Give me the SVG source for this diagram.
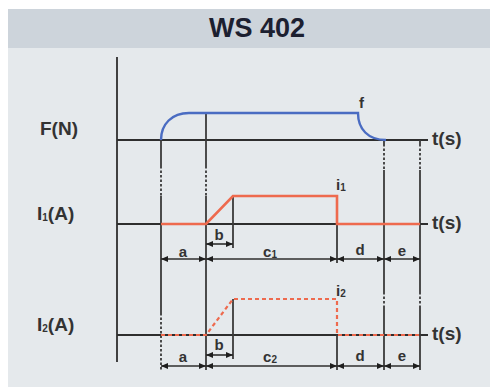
<svg xmlns="http://www.w3.org/2000/svg" width="490" height="387" viewBox="0 0 490 387">
<defs>
<style>
.ax{stroke:#2e2e2e;stroke-width:1.8;fill:none}
.vl{stroke:#3a3a3a;stroke-width:1.8;fill:none}
.br{stroke:#3a3a3a;stroke-width:1.8;fill:none;stroke-dasharray:2.5 2}
.dim{stroke:#2e2e2e;stroke-width:1.6;fill:none;marker-start:url(#ar);marker-end:url(#ar)}
.red{stroke:#ee6a4e;stroke-width:2.6;fill:none}
.redd{stroke:#ee6a4e;stroke-width:2.2;fill:none;stroke-dasharray:4 3}
.lbl{font-family:"Liberation Sans",Arial,sans-serif;font-weight:bold;fill:#333}
.big{font-size:19px}
.ts{font-size:19px}
.sm{font-size:15px}
.sub{font-size:10px}
</style>
<marker id="ar" viewBox="0 0 7 6" refX="7" refY="3" markerWidth="7" markerHeight="6" markerUnits="userSpaceOnUse" orient="auto-start-reverse">
<path d="M0,0 L7,3 L0,6 z" fill="#1e1e1e"/>
</marker>
</defs>
<rect x="0" y="0" width="490" height="387" fill="#ffffff"/>
<rect x="8" y="48" width="482" height="339" fill="#e5e9ec"/>
<rect x="8" y="9" width="482" height="39" fill="#cdd4db"/>
<g id="title"><text x="257" y="37" text-anchor="middle" font-family="Liberation Sans,Arial,sans-serif" font-weight="bold" font-size="27" fill="#1c2030">WS 402</text></g>

<g id="labels">
<text class="lbl big" x="40" y="135">F(N)</text>
<text class="lbl big" x="37" y="220">I<tspan class="sub" dy="1">1</tspan><tspan dy="-1">(A)</tspan></text>
<text class="lbl big" x="37" y="331">I<tspan class="sub" dy="1">2</tspan><tspan dy="-1">(A)</tspan></text>
<text class="lbl ts" x="432" y="145">t(s)</text>
<text class="lbl ts" x="432" y="229">t(s)</text>
<text class="lbl ts" x="432" y="340">t(s)</text>
<text class="lbl sm" x="359" y="108">f</text>
<text class="lbl sm" x="336" y="190">i<tspan class="sub" dy="1">1</tspan></text>
<text class="lbl sm" x="336" y="296">i<tspan class="sub" dy="1">2</tspan></text>
<text class="lbl sm" x="183" y="257" text-anchor="middle">a</text>
<text class="lbl sm" x="219" y="240" text-anchor="middle">b</text>
<text class="lbl sm" x="270" y="257" text-anchor="middle">c<tspan class="sub" dy="1">1</tspan></text>
<text class="lbl sm" x="360" y="255" text-anchor="middle">d</text>
<text class="lbl sm" x="402" y="256" text-anchor="middle">e</text>
<text class="lbl sm" x="183" y="362" text-anchor="middle">a</text>
<text class="lbl sm" x="219" y="350" text-anchor="middle">b</text>
<text class="lbl sm" x="270" y="362" text-anchor="middle">c<tspan class="sub" dy="1">2</tspan></text>
<text class="lbl sm" x="360" y="361" text-anchor="middle">d</text>
<text class="lbl sm" x="402" y="361" text-anchor="middle">e</text>
</g>

<g id="connectors">
<line class="ax" x1="117" y1="57" x2="117" y2="362"/>
<line class="ax" x1="117" y1="140" x2="428" y2="140"/>
<line class="ax" x1="117" y1="224" x2="428" y2="224"/>
<line class="ax" x1="117" y1="335" x2="428" y2="335"/>
<line class="vl" x1="161" y1="140" x2="161" y2="166"/>
<line class="br" x1="161" y1="166" x2="161" y2="196"/>
<line class="vl" x1="161" y1="196" x2="161" y2="313"/>
<line class="br" x1="161" y1="313" x2="161" y2="370"/>
<line class="vl" x1="206" y1="113" x2="206" y2="166"/>
<line class="br" x1="206" y1="166" x2="206" y2="196"/>
<line class="vl" x1="206" y1="196" x2="206" y2="370"/>
<line class="vl" x1="233" y1="196" x2="233" y2="248"/>
<line class="vl" x1="233" y1="299" x2="233" y2="359"/>
<line class="vl" x1="337" y1="224" x2="337" y2="263"/>
<line class="vl" x1="337" y1="335" x2="337" y2="370"/>
<line class="vl" x1="384" y1="140" x2="384" y2="144"/>
<line class="br" x1="384" y1="144" x2="384" y2="170"/>
<line class="vl" x1="384" y1="170" x2="384" y2="292"/>
<line class="br" x1="384" y1="292" x2="384" y2="308"/>
<line class="vl" x1="384" y1="308" x2="384" y2="370"/>
<line class="vl" x1="420" y1="140" x2="420" y2="144"/>
<line class="br" x1="420" y1="144" x2="420" y2="170"/>
<line class="vl" x1="420" y1="170" x2="420" y2="292"/>
<line class="br" x1="420" y1="292" x2="420" y2="308"/>
<line class="vl" x1="420" y1="308" x2="420" y2="370"/>
<line class="dim" x1="161" y1="259" x2="206" y2="259"/>
<line class="dim" x1="206" y1="259" x2="337" y2="259"/>
<line class="dim" x1="337" y1="259" x2="384" y2="259"/>
<line class="dim" x1="384" y1="259" x2="420" y2="259"/>
<line class="dim" x1="206" y1="244" x2="233" y2="244"/>
<line class="dim" x1="161" y1="366" x2="206" y2="366"/>
<line class="dim" x1="206" y1="366" x2="337" y2="366"/>
<line class="dim" x1="337" y1="366" x2="384" y2="366"/>
<line class="dim" x1="384" y1="366" x2="420" y2="366"/>
<line class="dim" x1="206" y1="355" x2="233" y2="355"/>
<path d="M161,140 C161,124 172,113 189,113 L358,113 C358,129 368,140 386,140" fill="none" stroke="#4a6cc2" stroke-width="2.4"/>
<polyline class="red" points="161,224 206,224 233,196 337,196 337,224 420,224"/>
<polyline class="redd" points="161,335 206,335 233,299 337,299 337,335 420,335"/>
</g>
</svg>
